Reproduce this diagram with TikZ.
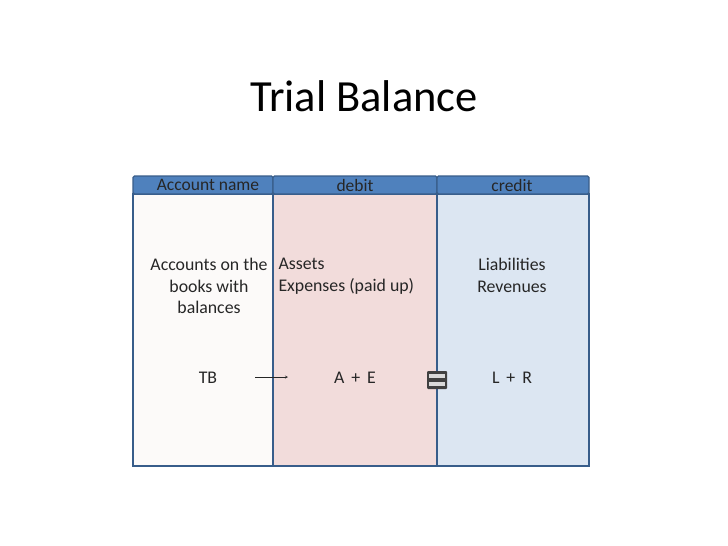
\documentclass[tikz,border=0pt]{standalone}
\usepackage{fontspec}
\setmainfont{Carlito}
\usetikzlibrary{positioning}
\definecolor{headblue}{HTML}{4F81BD}
\definecolor{edgeblue}{HTML}{385D8A}
\definecolor{colwhite}{HTML}{FCFAF9}
\definecolor{colpink}{HTML}{F2DCDB}
\definecolor{colblue}{HTML}{DCE6F2}
\tikzset{
  colbox/.style = {draw = edgeblue, line width = 1.2pt},
  headbox/.style = {fill = headblue, draw = edgeblue, line width = 1.2pt, rounded corners = 1.5pt},
  headtxt/.style = {font = \fontsize{17.5}{18}\selectfont, text = black!85},
  bodytxt/.style = {font = \fontsize{17.8}{21.5}\selectfont, text = black!85}
}
\begin{document}
\begin{tikzpicture}[x = 1pt, y = -1pt]
		\fill[white] (0, 0) rectangle (728, 546);
		\node[font = \fontsize{44.5}{48}\selectfont] (title) at (364, 96) {Trial Balance};
		% columns
		\filldraw[colbox, fill = colwhite] (133, 194) rectangle (273, 466);
		\filldraw[colbox, fill = colpink] (273, 194) rectangle (437, 466);
		\filldraw[colbox, fill = colblue] (437, 194) rectangle (589, 466);
		% header
		\filldraw[headbox] (133, 176) rectangle (273, 194);
		\filldraw[headbox] (273, 176) rectangle (437, 194);
		\filldraw[headbox] (437, 176) rectangle (589, 194);
		\node[headtxt] (hname) at (208, 185) {Account name};
		\node[headtxt] (hdebit) at (355, 185) {debit};
		\node[headtxt] (hcredit) at (512, 185) {credit};
		% texts
		\node[bodytxt, align = center, anchor = north] (accounts) at (209, 255) {Accounts on the\\books with\\balances};
		\node[bodytxt, align = left, anchor = north west] (assets) at (275, 255) {Assets\\Expenses (paid up)};
		\node[bodytxt, align = center, anchor = north] (liab) at (512, 255) {Liabilities\\Revenues};
		\node[bodytxt] (tb) at (208, 378) {TB};
		\node[bodytxt] (ae) at (355, 378) {A \,+\, E};
		\node[bodytxt] (lr) at (512, 378) {L \,+\, R};
		\coordinate (arrs) at (255, 377);
		\coordinate (arre) at (288, 377);
		\draw[-stealth, black!85] (arrs) -- (arre);
		% equals sign
		\fill[black!75, rounded corners = 1pt] (427, 371) rectangle (447, 389);
		\fill[white!85!black] (429, 374) rectangle (445, 378);
		\fill[white!85!black] (429, 382) rectangle (445, 386);
\end{tikzpicture}
\end{document}
